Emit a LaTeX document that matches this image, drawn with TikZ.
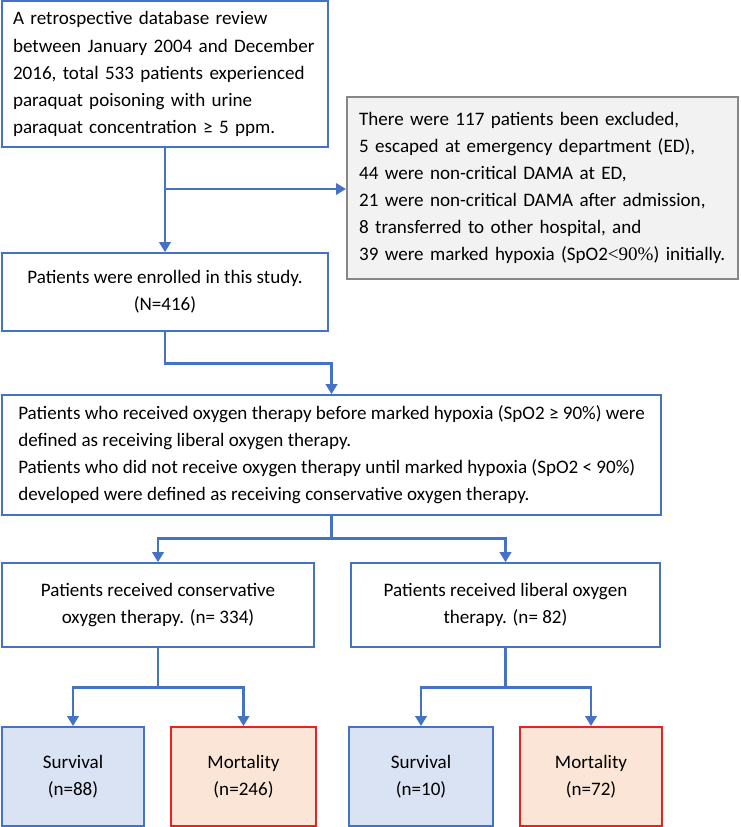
\documentclass[tikz,border=0pt]{standalone}
\usepackage{fontspec}
\setmainfont{Carlito}
\newfontfamily\timesfont{Liberation Serif}
\usetikzlibrary{arrows.meta,positioning}
\definecolor{flow}{RGB}{68,114,196}
\definecolor{exclgrey}{RGB}{135,135,135}
\definecolor{exclfill}{RGB}{242,242,242}
\definecolor{survfill}{RGB}{218,227,243}
\definecolor{mortred}{RGB}{240,30,30}
\definecolor{mortfill}{RGB}{251,229,214}
\tikzstyle{every box} = [font=\fontsize{14.3pt}{20.3pt}\selectfont, inner sep=2pt]
\tikzstyle{box} = [draw=flow, line width=1.2pt, fill=white, every box]
\tikzstyle{excl} = [draw=exclgrey, line width=1.5pt, fill=exclfill, every box]
\tikzstyle{surv} = [draw=flow, line width=1.4pt, fill=survfill, align=center, every box]
\tikzstyle{mort} = [draw=mortred, line width=1.4pt, fill=mortfill, align=center, every box]
\tikzstyle{link} = [-{Triangle[width=8.5pt,length=7.5pt]}, draw=flow, line width=2pt]

\begin{document}
\begin{tikzpicture}[x=0.75pt, y=-0.75pt]
                    \useasboundingbox (0,0) rectangle (740,827);
                    \node[box, text width=228pt, align=left, inner xsep=8.25pt, minimum width=244.5pt, minimum height=109.5pt] (review) at (165,74)
                        {A retrospective database review\\between January 2004 and December\\2016, total 533 patients experienced\\paraquat poisoning with urine\\paraquat concentration ≥ 5 ppm.};
                    \node[excl, text width=275pt, align=left, inner xsep=9pt, minimum width=293.25pt, minimum height=136.5pt] (excluded) at (542.5,188)
                        {There were 117 patients been excluded,\\5 escaped at emergency department (ED),\\44 were non-critical DAMA at ED,\\21 were non-critical DAMA after admission,\\8 transferred to other hospital, and\\39 were marked hypoxia (SpO2{\timesfont<90\%}) initially.};
                    \node[box, align=center, minimum width=244.5pt, minimum height=58.5pt] (enrolled) at (165,292)
                        {Patients were enrolled in this study.\\(N=416)};
                    \node[box, align=left, minimum width=494.25pt, minimum height=90pt] (definition) at (331.5,455)
                        {Patients who received oxygen therapy before marked hypoxia (SpO2 ≥ 90\%) were\\defined as receiving liberal oxygen therapy.\\Patients who did not receive oxygen therapy until marked hypoxia (SpO2 < 90\%)\\developed were defined as receiving conservative oxygen therapy.};

                    \node[box, align=center, minimum width=234pt, minimum height=63pt] (conservative) at (158,605)
                        {Patients received conservative\\oxygen therapy. (n= 334)};
                    \node[box, align=center, minimum width=231.75pt, minimum height=63pt] (liberal) at (505.5,605)
                        {Patients received liberal oxygen\\therapy. (n= 82)};

                    \node[surv, minimum width=106.5pt, minimum height=74.25pt] (survcons) at (73,776.5) {Survival\\(n=88)};
                    \node[mort, minimum width=108.75pt, minimum height=74.25pt] (mortcons) at (243.5,776.5) {Mortality\\(n=246)};
                    \node[surv, minimum width=108pt, minimum height=74.25pt] (survlib) at (421,776.5) {Survival\\(n=10)};
                    \node[mort, minimum width=106.5pt, minimum height=74.25pt] (mortlib) at (591,776.5) {Mortality\\(n=72)};

                    \coordinate (split) at (165,189);
                    \draw[link] (review.south) -- (enrolled.north);
                    \draw[link] (split) -- (split -| excluded.west);
                    \draw[link] (enrolled.south) -- ++(0,32) -| (definition.north);
                    \draw[link] (definition.south) -- ++(0,23) -| (conservative.north);
                    \draw[link] (definition.south) -- ++(0,23) -| (liberal.north);
                    \draw[link] (conservative.south) -- ++(0,40) -| (survcons.north);
                    \draw[link] (conservative.south) -- ++(0,40) -| (mortcons.north);
                    \draw[link] (liberal.south) -- ++(0,40) -| (survlib.north);
                    \draw[link] (liberal.south) -- ++(0,40) -| (mortlib.north);
                \end{tikzpicture}
\end{document}
